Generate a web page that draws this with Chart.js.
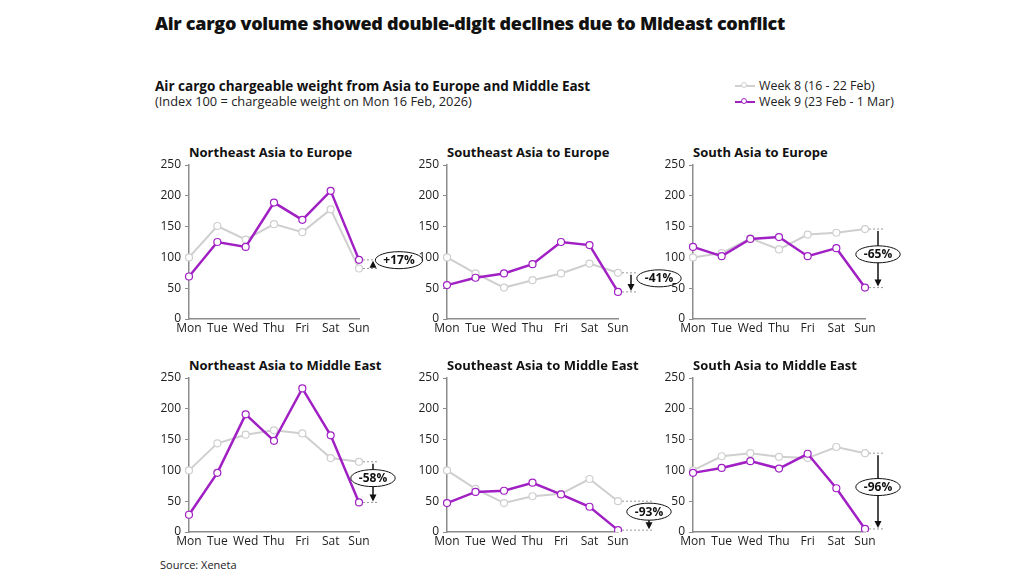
<!DOCTYPE html>
<html>
<head>
<meta charset="utf-8">
<script src="https://cdn.jsdelivr.net/npm/chart.js@4.4.1/dist/chart.umd.min.js"></script>
<style>
  html, body { margin: 0; padding: 0; background: #fff; }
  body { width: 1024px; height: 577px; position: relative; overflow: hidden; font-family: 'Open Sans', sans-serif; color: #111; }
  .abs { position: absolute; white-space: nowrap; }
  #title { left: 155px; top: 10px; font-size: 18px; font-weight: 800; line-height: 26px; letter-spacing: -0.3px; }
  #sub1 { left: 155px; top: 77px; font-size: 13.5px; font-weight: 700; line-height: 18px; }
  #sub2 { left: 155px; top: 93px; font-size: 12.8px; line-height: 16px; color: #222; }
  .leg { left: 735px; font-size: 12.4px; line-height: 16px; color: #222; display: flex; align-items: center; }
  .leg i { display: inline-block; position: relative; width: 20px; height: 2px; margin-right: 4px; }
  .leg i b { position: absolute; left: 6px; top: -3px; width: 6px; height: 6px; border-radius: 50%; background: #fff; border: 1px solid; box-sizing: border-box; }
  .ptitle { font-size: 13px; font-weight: 700; line-height: 16px; }
  #source { left: 160px; top: 557px; font-size: 11px; line-height: 16px; color: #222; }
  canvas { position: absolute; }
</style>
</head>
<body>
<div id="title" class="abs">Air cargo volume showed double-digit declines due to Mideast conflict</div>
<div id="sub1" class="abs">Air cargo chargeable weight from Asia to Europe and Middle East</div>
<div id="sub2" class="abs">(Index 100 = chargeable weight on Mon 16 Feb, 2026)</div>
<div id="leg8" class="abs leg" style="top:78px"><i style="background:#cfcfcf"><b style="border-color:#cfcfcf"></b></i>Week 8 (16 - 22 Feb)</div>
<div id="leg9" class="abs leg" style="top:94px"><i style="background:#a020c4"><b style="border-color:#a020c4"></b></i>Week 9 (23 Feb - 1 Mar)</div>
<div id="source" class="abs">Source: Xeneta</div>
<script>
const days = ['Mon', 'Tue', 'Wed', 'Thu', 'Fri', 'Sat', 'Sun'];
const yTicks = { min: 0, max: 250, step: 50 };
const seriesNames = ['Week 8 (16 - 22 Feb)', 'Week 9 (23 Feb - 1 Mar)'];

const panelTitles = [
  'Northeast Asia to Europe', 'Southeast Asia to Europe', 'South Asia to Europe',
  'Northeast Asia to Middle East', 'Southeast Asia to Middle East', 'South Asia to Middle East'
];

// week 8 / week 9 index values per lane
const neAsiaEuropeW8 = [100, 151, 129, 154, 141, 178, 82];
const neAsiaEuropeW9 = [69, 125, 117, 189, 161, 208, 96];
const seAsiaEuropeW8 = [100, 74, 51, 63, 74, 90, 75];
const seAsiaEuropeW9 = [55, 67, 74, 89, 125, 120, 44];
const sAsiaEuropeW8 = [100, 107, 131, 113, 137, 140, 146];
const sAsiaEuropeW9 = [117, 102, 130, 133, 102, 115, 51];
const neAsiaMidEastW8 = [100, 144, 158, 165, 160, 120, 114];
const neAsiaMidEastW9 = [28, 96, 191, 148, 233, 157, 48];
const seAsiaMidEastW8 = [100, 70, 47, 58, 62, 86, 50];
const seAsiaMidEastW9 = [47, 65, 67, 80, 61, 41, 3];
const sAsiaMidEastW8 = [100, 123, 128, 122, 120, 138, 128];
const sAsiaMidEastW9 = [96, 104, 115, 103, 127, 71, 5];

const changeLabels = ['+17%', '-41%', '-65%', '-58%', '-93%', '-96%'];

const week8 = [neAsiaEuropeW8, seAsiaEuropeW8, sAsiaEuropeW8, neAsiaMidEastW8, seAsiaMidEastW8, sAsiaMidEastW8];
const week9 = [neAsiaEuropeW9, seAsiaEuropeW9, sAsiaEuropeW9, neAsiaMidEastW9, seAsiaMidEastW9, sAsiaMidEastW9];

// layout
const GREY = '#cfcfcf', PURPLE = '#a020c4', AXIS = '#8c8c8c';
const FONT = "'Open Sans', sans-serif";
const colX = [189, 447, 693], colW = [170, 171, 172];
const rowY = [165, 378], plotH = 154;
const YW = 50, PADT = 12, XH = 22, PADR = 75;
// annotation placement: arrow offset from Sun point, label offset from arrow
const arrowDx = [14, 13, 13, 14, 31, 13];
const labelDx = [26, 28, 0, 0, 0, 0];

const changeNote = {
  id: 'changeNote',
  afterDatasetsDraw(chart, args, opts) {
    const a = chart.getDatasetMeta(0).data[6];
    const b = chart.getDatasetMeta(1).data[6];
    if (!a || !b) return;
    const ctx = chart.ctx;
    const ax = a.x + opts.arrowDx;
    ctx.save();
    // dotted guides
    ctx.setLineDash([2, 2]);
    ctx.strokeStyle = '#9a9a9a';
    ctx.lineWidth = 1;
    [a.y, b.y].forEach(y => {
      ctx.beginPath(); ctx.moveTo(a.x + 4, y); ctx.lineTo(ax + 5, y); ctx.stroke();
    });
    ctx.setLineDash([]);
    // arrow from week 8 to week 9
    const dir = b.y > a.y ? 1 : -1;
    const tipY = b.y - dir * 1;
    ctx.strokeStyle = '#111'; ctx.fillStyle = '#111'; ctx.lineWidth = 1.5;
    ctx.beginPath(); ctx.moveTo(ax, a.y + dir * 2); ctx.lineTo(ax, tipY - dir * 5); ctx.stroke();
    ctx.beginPath(); ctx.moveTo(ax - 3.5, tipY - dir * 7); ctx.lineTo(ax + 3.5, tipY - dir * 7); ctx.lineTo(ax, tipY); ctx.closePath(); ctx.fill();
    // label ellipse
    const lx = ax + opts.labelDx;
    const ly = (a.y + b.y) / 2 - 4;
    ctx.font = "700 12px " + FONT;
    const tw = ctx.measureText(opts.text).width;
    ctx.beginPath();
    ctx.ellipse(lx, ly, tw / 2 + 8, 8.5, 0, 0, Math.PI * 2);
    ctx.fillStyle = '#fff'; ctx.fill();
    ctx.strokeStyle = '#111'; ctx.lineWidth = 1; ctx.stroke();
    ctx.fillStyle = '#111'; ctx.textAlign = 'center'; ctx.textBaseline = 'middle';
    ctx.fillText(opts.text, lx, ly + 0.5);
    ctx.restore();
  }
};

panelTitles.forEach((title, i) => {
  const col = i % 3, row = Math.floor(i / 3);
  const left = colX[col] - YW, top = rowY[row] - PADT;
  const width = YW + colW[col] + PADR, height = PADT + plotH + XH;

  const t = document.createElement('div');
  t.className = 'abs ptitle';
  t.style.left = colX[col] + 'px';
  t.style.top = (rowY[row] - 21) + 'px';
  t.textContent = title;
  document.body.appendChild(t);

  const cv = document.createElement('canvas');
  cv.width = width; cv.height = height;
  cv.style.left = left + 'px'; cv.style.top = top + 'px';
  document.body.appendChild(cv);

  new Chart(cv, {
    type: 'line',
    data: {
      labels: days,
      datasets: [
        { label: seriesNames[0], data: week8[i], borderColor: GREY, borderWidth: 2, pointBackgroundColor: '#fff', pointBorderColor: GREY, pointBorderWidth: 1.2, pointRadius: 3.5, order: 2 },
        { label: seriesNames[1], data: week9[i], borderColor: PURPLE, borderWidth: 2.5, pointBackgroundColor: '#fff', pointBorderColor: PURPLE, pointBorderWidth: 1.2, pointRadius: 3.5, order: 1 }
      ]
    },
    options: {
      responsive: false,
      animation: false,
      devicePixelRatio: 1,
      layout: { padding: { left: 0, top: PADT, right: PADR, bottom: 0 } },
      plugins: {
        legend: { display: false },
        tooltip: { enabled: false },
        changeNote: { text: changeLabels[i], arrowDx: arrowDx[i], labelDx: labelDx[i] }
      },
      scales: {
        x: {
          offset: false,
          grid: { display: false, drawTicks: false },
          border: { display: true, color: AXIS, width: 1.5 },
          ticks: { color: '#222', font: { family: FONT, size: 12 }, padding: 2, maxRotation: 0, autoSkip: false },
          afterFit: s => { s.height = XH; }
        },
        y: {
          min: yTicks.min, max: yTicks.max,
          grid: { display: true, drawOnChartArea: false, drawTicks: true, tickLength: 4, color: AXIS },
          border: { display: true, color: AXIS, width: 1.5 },
          ticks: { stepSize: yTicks.step, color: '#222', font: { family: FONT, size: 12 }, padding: 4 },
          afterFit: s => { s.width = YW; }
        }
      }
    },
    plugins: [changeNote]
  });
});
</script>
</body>
</html>
